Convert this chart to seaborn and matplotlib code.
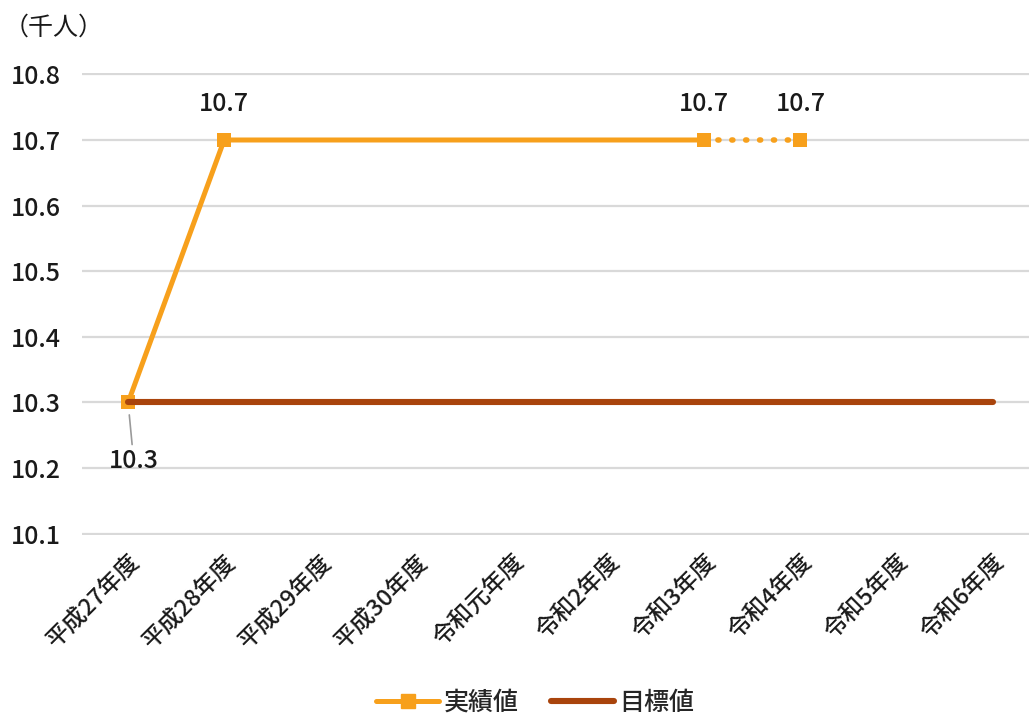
import numpy as np
import pandas as pd
import seaborn as sns
import matplotlib.pyplot as plt
from matplotlib.lines import Line2D

# ---- data ----
categories = ["平成27年度", "平成28年度", "平成29年度", "平成30年度", "令和元年度",
              "令和2年度", "令和3年度", "令和4年度", "令和5年度", "令和6年度"]
actual = [10.3, 10.7, np.nan, np.nan, np.nan, np.nan, 10.7, 10.7, np.nan, np.nan]
target = [10.3, 10.3, 10.3, 10.3, 10.3, 10.3, 10.3, 10.3, 10.3, 10.3]
yticks = [10.1, 10.2, 10.3, 10.4, 10.5, 10.6, 10.7, 10.8]
series_names = ["実績値", "目標値"]
unit_label = "（千人）"
dotted_from = "令和3年度"   # last confirmed value; segment after it drawn dotted

ORANGE = "#F7A01C"
BROWN = "#A9440C"
GRID = "#D9D9D9"
TXT = "#1a1a1a"

sns.set_theme(style="white")
plt.rcParams['font.family'] = ['Noto Sans CJK JP', 'DejaVu Sans']

df = pd.DataFrame({"cat": categories, "x": np.arange(len(categories)),
                   "actual": actual, "target": target})
split = categories.index(dotted_from)
solid = df[df["x"] <= split].dropna(subset=["actual"])
dotted = df[(df["x"] >= split)].dropna(subset=["actual"])

fig = plt.figure(figsize=(10.29, 7.17), dpi=100)
ax = fig.add_axes([0.0797, 0.2538, 0.9203, 0.6443])

sns.lineplot(data=solid, x="x", y="actual", ax=ax, color=ORANGE, lw=3.6,
             marker="s", markersize=10.5, markeredgewidth=0, legend=False, zorder=3)
sns.lineplot(data=dotted, x="x", y="actual", ax=ax, color=ORANGE, lw=4.0,
             marker="s", markersize=10.5, markeredgewidth=0, legend=False, zorder=3,
             linestyle=(0, (0.2, 2.3)))
ax.lines[-1].set_dash_capstyle("round")
sns.lineplot(data=df, x="x", y="target", ax=ax, color=BROWN, lw=4.4,
             legend=False, zorder=4)
ax.lines[-1].set_solid_capstyle("round")

# data labels
NUM_FS = 18
for _, r in df.dropna(subset=["actual"]).iterrows():
    if r["actual"] >= 10.5:
        ax.annotate(f"{r['actual']:.1f}", (r["x"], r["actual"]), xytext=(0, 26),
                    textcoords="offset points", ha="center", va="center",
                    fontsize=NUM_FS, fontweight="medium", color=TXT)
    else:
        ax.annotate(f"{r['actual']:.1f}", (r["x"], r["actual"]), xytext=(4, -42),
                    textcoords="offset points", ha="center", va="center",
                    fontsize=NUM_FS, fontweight="medium", color=TXT,
                    arrowprops=dict(arrowstyle="-", color="#9a9a9a", lw=1.2,
                                    shrinkA=0, shrinkB=9))

ax.set_xlim(-0.48, 9.38)
ax.set_ylim(10.098, 10.802)
ax.set_yticks(yticks)
ax.set_yticklabels([f"{v:.1f}" for v in yticks], fontsize=NUM_FS,
                   fontweight="medium", color=TXT)
ax.set_xticks(df["x"])
ax.set_xticklabels(categories, rotation=45, ha="right", rotation_mode="anchor",
                   fontsize=17, fontweight="medium", color=TXT)
ax.tick_params(axis="x", direction="in", length=4, color=GRID, width=1, pad=11)
ax.tick_params(axis="y", length=0, pad=15)
ax.set_xlabel("")
ax.set_ylabel("")
ax.yaxis.grid(True, color=GRID, lw=1.6)
ax.xaxis.grid(False)
for s in ["top", "right", "left", "bottom"]:
    ax.spines[s].set_visible(False)

fig.text(0.004, 0.962, unit_label, fontsize=18, ha="left", va="center", color=TXT)

handles = [Line2D([], [], color=ORANGE, lw=3.6, marker="s", markersize=10.5),
           Line2D([], [], color=BROWN, lw=4.4)]
fig.legend(handles, series_names, loc="center", bbox_to_anchor=(0.52, 0.02),
           ncol=2, frameon=False, fontsize=18, handlelength=2.5,
           columnspacing=1.3, handletextpad=0.2,
           prop={"size": 18, "weight": "medium"})

fig.savefig("out.png", dpi=100)
